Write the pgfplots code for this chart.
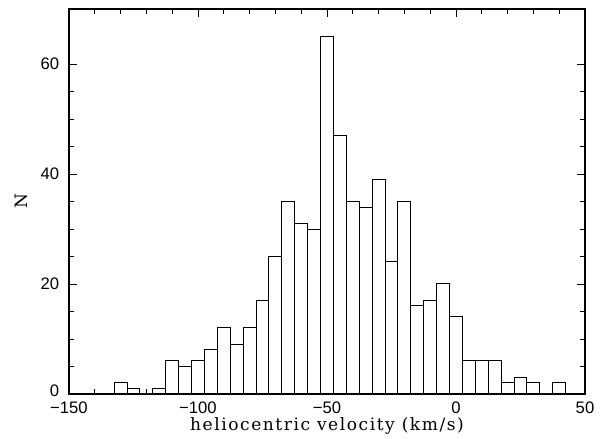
\documentclass[border=0pt]{standalone}
\usepackage{fontspec}
\setmainfont{Liberation Sans}
\newfontfamily\labelfont[LetterSpace=9]{DejaVu Serif}
\usepackage{pgfplots}
\pgfplotsset{compat=1.18}

% histogram: left bin edge, count (bins 5 km/s wide, centred on multiples of 5)
\pgfplotstableread{
edge  n
-132.5 2
-127.5 1
-122.5 0
-117.5 1
-112.5 6
-107.5 5
-102.5 6
-97.5  8
-92.5  12
-87.5  9
-82.5  12
-77.5  17
-72.5  25
-67.5  35
-62.5  31
-57.5  30
-52.5  65
-47.5  47
-42.5  35
-37.5  34
-32.5  39
-27.5  24
-22.5  35
-17.5  16
-12.5  17
-7.5   20
-2.5   14
2.5    6
7.5    6
12.5   6
17.5   2
22.5   3
27.5   2
32.5   0
37.5   2
42.5   0
}\histdata

\begin{document}
\begin{tikzpicture}
\begin{axis}[
    name=main,
    scale only axis,
    width=387pt,
    height=288.75pt,
    xmin=-150, xmax=50,
    ymin=0, ymax=70,
    xtick={-150,-100,-50,0,50},
    xticklabels={−150,−100,−50,0,50},
    minor x tick num=4,
    ytick={0,20,40,60},
    yticklabels={\raisebox{5pt}{0},20,40,60},
    minor y tick num=3,
    tick align=inside,
    major tick length=6pt,
    minor tick length=3.4pt,
    tick style={black, line width=0.6pt},
    axis line style={line width=0.8pt},
    tick label style={font=\fontsize{12.5}{14}\selectfont},
    xticklabel style={yshift=-2.6pt},
    yticklabel style={xshift=-3.9pt},
    xlabel={\labelfont\fontsize{12.8}{14}\selectfont heliocentric velocity (km/s)},
    ylabel={\labelfont\fontsize{12.8}{14}\selectfont N},
    xlabel style={yshift=4.5pt},
    ylabel style={yshift=2.5pt},
]
\addplot[ybar interval, fill=white, draw=black, line width=0.75pt] table[x=edge, y=n] {\histdata};
\end{axis}
\path ([xshift=-51.75pt, yshift=-32.25pt]main.south west)
      rectangle ([xshift=21pt, yshift=6.75pt]main.north east);
\end{tikzpicture}
\end{document}
